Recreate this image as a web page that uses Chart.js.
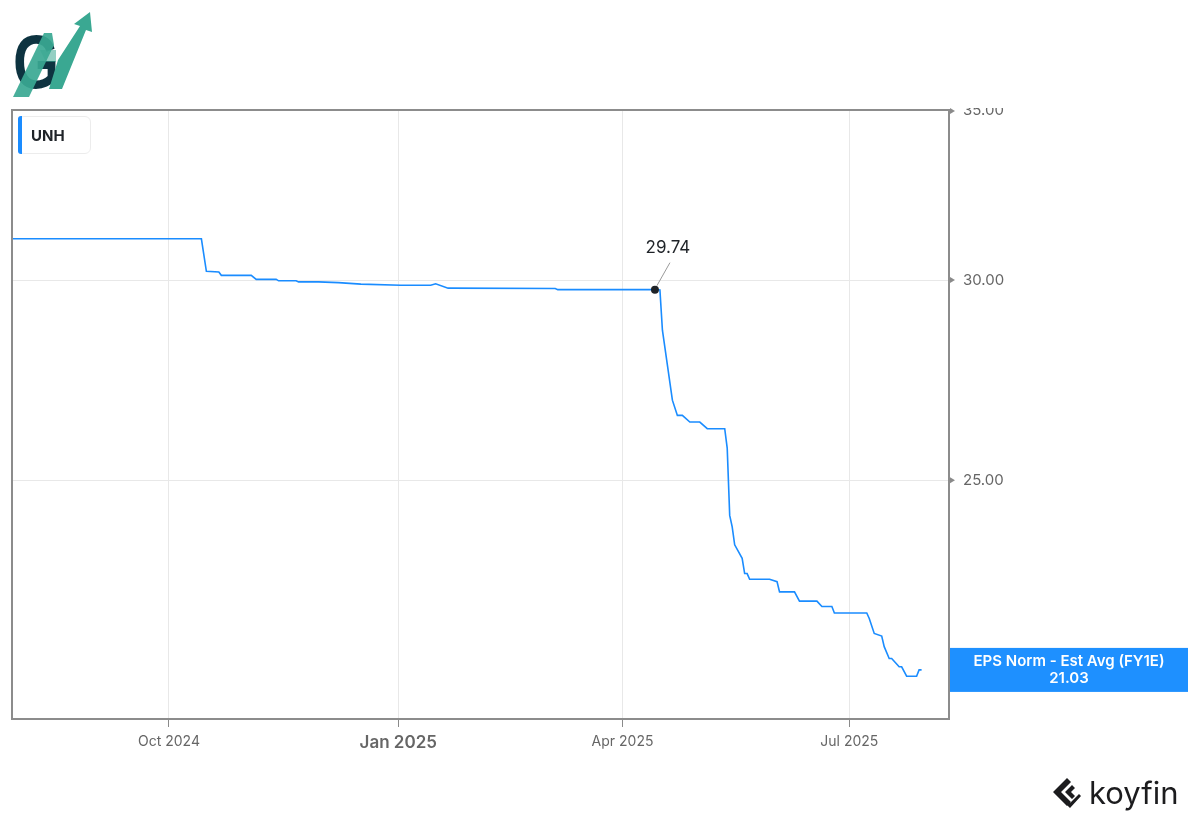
<!DOCTYPE html>
<html>
<head>
<meta charset="utf-8">
<script src="https://cdn.jsdelivr.net/npm/chart.js@4.4.1/dist/chart.umd.min.js"></script>
<style>
  html, body { margin: 0; padding: 0; background: #ffffff; }
  body { width: 1200px; height: 825px; position: relative; overflow: hidden; font-family: Inter, "Noto Sans", sans-serif; }
  #wrap { position: absolute; left: 0; top: 0; width: 1200px; height: 825px; }
  #legend { position: absolute; left: 18px; top: 116px; width: 73px; height: 38px; box-sizing: border-box;
    border: 1px solid #ececec; border-radius: 6px; background: #fff; }
  #legend .bar { position: absolute; left: -1px; top: -1px; bottom: -1px; width: 4px; background: #1a8cff; border-radius: 3px 0 0 3px; }
  #legend .txt { position: absolute; left: 12px; top: 9px; font: 700 15px Inter, sans-serif; color: #1f2328; }
  #logo { position: absolute; left: 0; top: 0; }
  #koyfin { position: absolute; left: 1050px; top: 774px; display: flex; align-items: center; }
  #koyfin span { font: 400 31px Inter, sans-serif; color: #1c1c1e; margin-left: 5px; letter-spacing: 0px; }
</style>
</head>
<body>
<div id="wrap"><canvas id="c" width="1200" height="825"></canvas></div>
<svg id="logo" width="100" height="100" viewBox="0 0 100 100">
  <g transform="translate(13,88) scale(0.78,1)">
    <text x="0" y="0" font-family="Liberation Sans, Arial, sans-serif" font-weight="700" font-size="76" fill="#0d3340">G</text>
  </g>
  <polygon points="13,97 29,97 54,45 52,33 44,33" fill="#3aa892" opacity="0.92"/>
  <polygon points="49,89 62,89 86,30 92,32 90,12 74,24 80,26 58,60" fill="#3aa892"/>
  <polygon points="40,50 56,50 56,62 46,62" fill="#3aa892" opacity="0.55"/>
</svg>
<div id="legend"><div class="bar"></div><div class="txt">UNH</div></div>
<div id="koyfin">
  <svg width="34" height="34" viewBox="0 0 34 34">
    <path d="M17 2 L3 16 L17 30 L21 26 L11 16 L21 6 Z" fill="#1c1c1e"/>
    <path d="M22 9 L15 16 L22 23 L25 20 L21 16 L25 12 Z" fill="#1c1c1e"/>
    <path d="M9 16 L20 27 L29 18 L31 20 L20 32 L6 18 Z" fill="#1c1c1e"/>
  </svg>
  <span>koyfin</span>
</div>
<script>
// ---- data ----
const seriesName = "UNH";
const metricName = "EPS Norm - Est Avg (FY1E)";
const dates = [
  "2024-07-30","2024-10-14","2024-10-16","2024-10-21","2024-10-22","2024-11-03","2024-11-05","2024-11-13",
  "2024-11-14","2024-11-21","2024-11-22","2024-11-30","2024-12-08","2024-12-17","2025-01-02","2025-01-14",
  "2025-01-16","2025-01-21","2025-03-05","2025-03-06","2025-04-14","2025-04-16","2025-04-17","2025-04-21",
  "2025-04-23","2025-04-25","2025-04-28","2025-05-02","2025-05-05","2025-05-12","2025-05-13","2025-05-14",
  "2025-05-15","2025-05-16","2025-05-19","2025-05-20","2025-05-21","2025-05-22","2025-05-30","2025-06-02",
  "2025-06-03","2025-06-09","2025-06-11","2025-06-18","2025-06-20","2025-06-24","2025-06-25","2025-07-08",
  "2025-07-09","2025-07-11","2025-07-14","2025-07-15","2025-07-17","2025-07-18","2025-07-21","2025-07-22",
  "2025-07-24","2025-07-28","2025-07-29","2025-07-30"
];
const values = [
  31.15,31.15,30.24,30.22,30.13,30.13,30.02,30.02,
  29.98,29.98,29.95,29.95,29.93,29.89,29.86,29.86,
  29.90,29.78,29.77,29.74,29.74,29.73,28.66,26.89,
  26.52,26.52,26.36,26.36,26.20,26.20,25.74,24.21,
  23.96,23.57,23.28,22.96,22.96,22.84,22.84,22.79,
  22.58,22.58,22.39,22.39,22.28,22.28,22.15,22.15,
  22.04,21.74,21.69,21.48,21.25,21.25,21.09,21.09,
  20.91,20.91,21.03,21.03
];
const annotatedDate = "2025-04-14";
const xTickDates = ["2024-10-01","2025-01-01","2025-04-01","2025-07-01"];
const xTickLabels = ["Oct 2024","Jan 2025","Apr 2025","Jul 2025"];
const boldTickLabel = "Jan 2025";
const yTickValues = [25, 30, 35];
const xRange = ["2024-07-30","2025-08-10"];
const yRange = [20.11, 35.03];

// ---- helpers ----
const DAY = 86400000;
const toDay = s => Date.parse(s + "T00:00:00Z") / DAY;
const points = dates.map((d, i) => ({ x: toDay(d), y: values[i] }));
const annIndex = dates.indexOf(annotatedDate);
const tickDayMap = {};
xTickDates.forEach((d, i) => { tickDayMap[toDay(d)] = xTickLabels[i]; });

const FONT = "Inter, 'Noto Sans', sans-serif";
const LINE = "#1a8cff";
const BORDER = "#8c8c8c";
const GRID = "#e8e8e8";

const decorPlugin = {
  id: "decor",
  afterDraw(chart) {
    const ctx = chart.ctx;
    const ca = chart.chartArea;
    const xs = chart.scales.x, ys = chart.scales.y;
    ctx.save();
    // frame (left + top)
    ctx.strokeStyle = BORDER;
    ctx.lineWidth = 2;
    ctx.beginPath();
    ctx.moveTo(ca.left, ca.bottom);
    ctx.lineTo(ca.left, ca.top);
    ctx.lineTo(ca.right, ca.top);
    ctx.stroke();
    // clip top of the top tick label like the reference
    ctx.fillStyle = "#ffffff";
    ctx.fillRect(ca.right + 3, 0, 120, ca.top - 2);
    // y tick triangles
    ctx.fillStyle = "#8a8a8a";
    yTickValues.forEach(v => {
      const py = ys.getPixelForValue(v);
      ctx.beginPath();
      ctx.moveTo(ca.right + 1, py - 3);
      ctx.lineTo(ca.right + 6, py);
      ctx.lineTo(ca.right + 1, py + 3);
      ctx.closePath();
      ctx.fill();
    });
    // annotation
    const ax = xs.getPixelForValue(points[annIndex].x);
    const ay = ys.getPixelForValue(points[annIndex].y);
    ctx.strokeStyle = "#9a9a9a";
    ctx.lineWidth = 1;
    ctx.beginPath();
    ctx.moveTo(ax + 2, ay - 4);
    ctx.lineTo(ax + 15, ay - 27);
    ctx.stroke();
    ctx.fillStyle = "#1f2328";
    ctx.beginPath();
    ctx.arc(ax, ay, 4, 0, Math.PI * 2);
    ctx.fill();
    ctx.font = "400 17px " + FONT;
    ctx.textAlign = "center";
    ctx.textBaseline = "middle";
    ctx.fillText(values[annIndex].toFixed(2), ax + 13, ay - 42);
    // end label box
    const last = points.length - 1;
    const ly = ys.getPixelForValue(points[last].y);
    const bx = ca.right + 1, bw = 1188 - bx, bh = 44;
    ctx.fillStyle = "#1e90ff";
    ctx.fillRect(bx, ly - bh / 2, bw, bh);
    ctx.fillStyle = "#ffffff";
    ctx.font = "600 15px " + FONT;
    ctx.fillText(metricName, bx + bw / 2, ly - 8);
    ctx.fillText(values[last].toFixed(2), bx + bw / 2, ly + 9);
    ctx.restore();
  }
};

new Chart(document.getElementById("c"), {
  type: "line",
  data: {
    datasets: [{
      label: seriesName,
      data: points,
      borderColor: LINE,
      borderWidth: 1.6,
      pointRadius: 0,
      tension: 0,
      fill: false
    }]
  },
  options: {
    responsive: false,
    animation: false,
    events: [],
    layout: { padding: { left: 12, top: 110, right: 0, bottom: 0 } },
    plugins: { legend: { display: false }, tooltip: { enabled: false } },
    scales: {
      x: {
        type: "linear",
        min: toDay(xRange[0]),
        max: toDay(xRange[1]),
        afterBuildTicks: s => { s.ticks = xTickDates.map(d => ({ value: toDay(d) })); },
        afterFit: s => { s.height = 106; },
        grid: { color: GRID, lineWidth: 1, tickLength: 8, tickColor: "#8a8a8a", tickWidth: 1 },
        border: { display: true, color: BORDER, width: 2 },
        ticks: {
          autoSkip: false,
          maxRotation: 0,
          padding: 6,
          color: "#666666",
          font: c => (c.tick && tickDayMap[c.tick.value] === boldTickLabel)
            ? { family: FONT, size: 17, weight: "600" }
            : { family: FONT, size: 14, weight: "400" },
          callback: v => tickDayMap[v] || ""
        }
      },
      y: {
        type: "logarithmic",
        position: "right",
        min: yRange[0],
        max: yRange[1],
        afterBuildTicks: s => { s.ticks = yTickValues.map(v => ({ value: v })); },
        afterFit: s => { s.width = 251; },
        grid: { color: GRID, lineWidth: 1, drawTicks: false },
        border: { display: true, color: BORDER, width: 2 },
        ticks: {
          padding: 14,
          color: "#666666",
          font: { family: FONT, size: 15 },
          callback: v => Number(v).toFixed(2)
        }
      }
    }
  },
  plugins: [decorPlugin]
});
</script>
</body>
</html>
